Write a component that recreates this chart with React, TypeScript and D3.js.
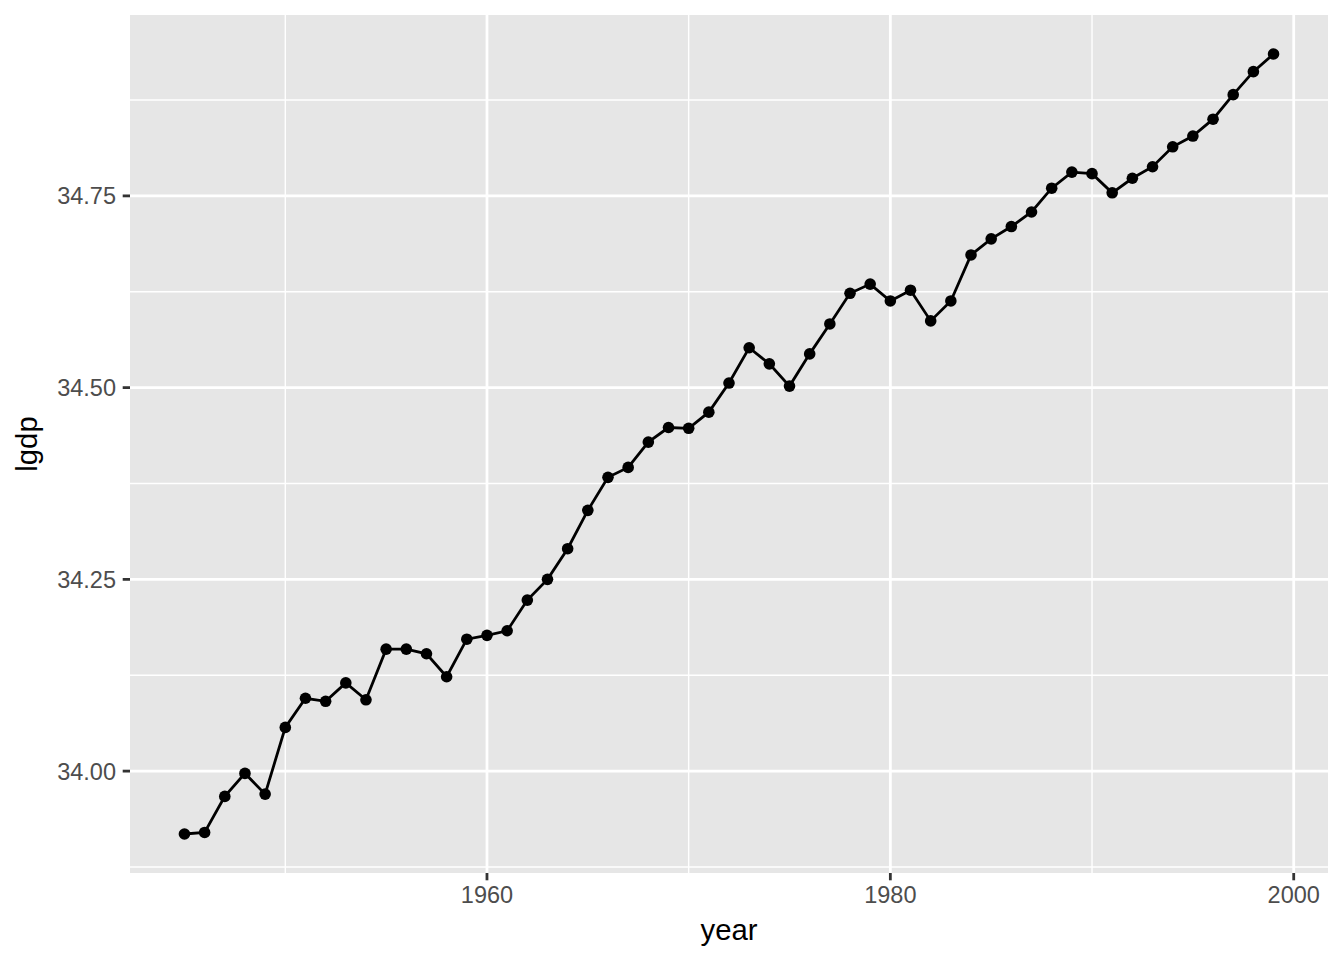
import * as d3 from "d3";

const years = d3.range(1945, 2000);
const lgdp = [
  33.918, 33.92, 33.967, 33.997, 33.97, 34.057, 34.095, 34.091, 34.115, 34.093,
  34.159, 34.159, 34.153, 34.123, 34.172, 34.177, 34.183, 34.223, 34.25, 34.29,
  34.34, 34.383, 34.396, 34.429, 34.448, 34.447, 34.468, 34.506, 34.552, 34.531,
  34.502, 34.544, 34.583, 34.623, 34.635, 34.613, 34.627, 34.587, 34.613, 34.673,
  34.694, 34.71, 34.729, 34.76, 34.781, 34.779, 34.754, 34.773, 34.788, 34.814,
  34.828, 34.85, 34.882, 34.912, 34.935,
];
const xMajor = [1960, 1980, 2000];
const xMinor = [1950, 1970, 1990];
const yMajor = [34.0, 34.25, 34.5, 34.75];
const yMinor = [33.875, 34.125, 34.375, 34.625, 34.875];

type Pt = { year: number; value: number };
const data: Pt[] = years.map((year, i) => ({ year, value: lgdp[i] }));

const width = 1344;
const height = 960;
const margin = { top: 15, right: 16, bottom: 87, left: 130 };
const font = "'Liberation Sans', Arial, sans-serif";

export default function App() {
  const w = width - margin.left - margin.right;
  const h = height - margin.top - margin.bottom;

  // ggplot-style 5% expansion
  const [x0, x1] = d3.extent(years) as [number, number];
  const xPad = (x1 - x0) * 0.05;
  const x = d3.scaleLinear().domain([x0 - xPad, x1 + xPad]).range([0, w]);

  const [y0, y1] = d3.extent(lgdp) as [number, number];
  const yPad = (y1 - y0) * 0.05;
  const y = d3.scaleLinear().domain([y0 - yPad, y1 + yPad]).range([h, 0]);

  const line = d3
    .line<Pt>()
    .x((d) => x(d.year))
    .y((d) => y(d.value));

  return (
    <svg
      width={width}
      height={height}
      style={{ position: "absolute", left: 0, top: 0, background: "#fff" }}
      fontFamily={font}
    >
      <g transform={`translate(${margin.left},${margin.top})`}>
        <rect width={w} height={h} fill="#e6e6e6" />
        {yMinor.map((v) => (
          <line key={"ym" + v} x1={0} x2={w} y1={y(v)} y2={y(v)} stroke="#fff" strokeWidth={1.4} />
        ))}
        {xMinor.map((v) => (
          <line key={"xm" + v} x1={x(v)} x2={x(v)} y1={0} y2={h} stroke="#fff" strokeWidth={1.4} />
        ))}
        {yMajor.map((v) => (
          <line key={"yM" + v} x1={0} x2={w} y1={y(v)} y2={y(v)} stroke="#fff" strokeWidth={2.8} />
        ))}
        {xMajor.map((v) => (
          <line key={"xM" + v} x1={x(v)} x2={x(v)} y1={0} y2={h} stroke="#fff" strokeWidth={2.8} />
        ))}

        <path d={line(data) ?? ""} fill="none" stroke="#000" strokeWidth={2.8} />
        {data.map((d) => (
          <circle key={d.year} cx={x(d.year)} cy={y(d.value)} r={5.8} fill="#000" />
        ))}

        {/* y axis */}
        {yMajor.map((v) => (
          <g key={"yt" + v} transform={`translate(0,${y(v)})`}>
            <line x1={-7.3} x2={0} stroke="#333" strokeWidth={2.8} />
            <text x={-14} dy="0.36em" textAnchor="end" fontSize={23.5} fill="#4d4d4d">
              {d3.format(".2f")(v)}
            </text>
          </g>
        ))}

        {/* x axis */}
        {xMajor.map((v) => (
          <g key={"xt" + v} transform={`translate(${x(v)},${h})`}>
            <line y1={0} y2={7.3} stroke="#333" strokeWidth={2.8} />
            <text y={30} textAnchor="middle" fontSize={23.5} fill="#4d4d4d">
              {v}
            </text>
          </g>
        ))}

        <text x={w / 2} y={h + 67} textAnchor="middle" fontSize={29.3} fill="#000">
          year
        </text>
        <text
          transform={`translate(${-93},${h / 2}) rotate(-90)`}
          textAnchor="middle"
          fontSize={29.3}
          fill="#000"
        >
          lgdp
        </text>
      </g>
    </svg>
  );
}
